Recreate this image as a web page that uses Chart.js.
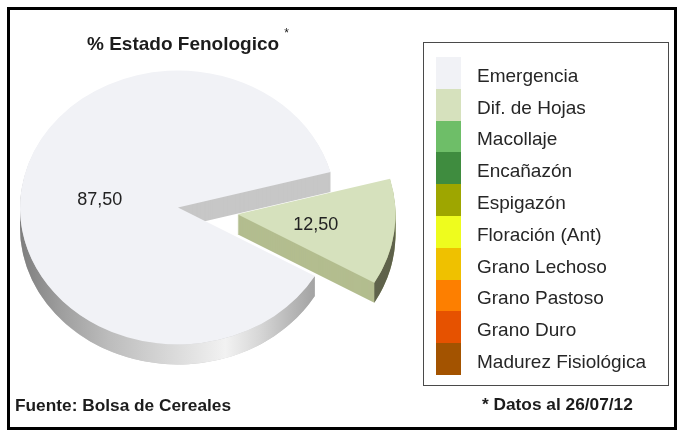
<!DOCTYPE html>
<html>
<head>
<meta charset="utf-8">
<script src="https://cdn.jsdelivr.net/npm/chart.js@4.4.0/dist/chart.umd.min.js"></script>
<style>
  body { margin: 0; background: #fff; }
  #wrap { position: relative; width: 677px; height: 430px; overflow: hidden;
          font-family: "Liberation Sans", Arial, sans-serif; color: #1c1c1c; }
  #frame { position: absolute; left: 7px; top: 7px; width: 670px; height: 423px;
           box-sizing: border-box; border: 3px solid #000; }
  canvas { position: absolute; left: 0; top: 0; }
  .txt { position: absolute; white-space: nowrap; line-height: 1; font-weight: bold; }
  .ast { font-size: 12px; font-weight: normal; position: relative; top: -13px; margin-left: 5px; }
</style>
</head>
<body>
<div id="wrap">
  <div id="frame"></div>
  <canvas id="fenoChart" width="677" height="430"></canvas>
  <div class="txt" style="left:87px; top:34px; font-size:19px;">% Estado Fenologico<span class="ast">*</span></div>
  <div class="txt" style="left:15px; top:397px; font-size:17.3px;">Fuente: Bolsa de Cereales</div>
  <div class="txt" style="left:482px; top:396px; font-size:17.3px;">* Datos al 26/07/12</div>
</div>
<script>
// etapas fenologicas y porcentaje de cada una
const etapas = ["Emergencia", "Dif. de Hojas", "Macollaje", "Encañazón", "Espigazón",
  "Floración (Ant)", "Grano Lechoso", "Grano Pastoso", "Grano Duro", "Madurez Fisiológica"];
const porcentajes = [87.5, 12.5, 0, 0, 0, 0, 0, 0, 0, 0];
const colores = ["#f1f2f6", "#d6e1bd", "#6ebe68", "#3f8c3f", "#9ea600",
  "#eefc1e", "#efc100", "#fd7f00", "#e65200", "#a35300"];

// colores de las caras laterales (corte y borde) para el efecto 3D
const colorCorte = ["#c7c7c7", "#b3bd8f"];
const colorBorde = [
  [[0, "#7e7e7e"], [0.13, "#9e9e9e"], [0.28, "#bcbcbc"], [0.41, "#cfcfcf"], [0.57, "#e6e6e6"],
   [0.65, "#f2f2f2"], [0.76, "#d6d6d6"], [0.85, "#bababa"], [0.92, "#a6a6a6"], [1, "#999999"]],
  [[0, "#74775e"], [1, "#5e614a"]]
];

// dibuja la torta inclinada con profundidad usando los arcos de Chart.js
const torta3d = {
  id: 'torta3d',
  beforeDatasetDraw(chart, args, opts) {
    const ctx = chart.ctx;
    const arcs = chart.getDatasetMeta(args.index).data;
    const t = opts.tilt, prof = opts.depth;
    const cx = arcs[0].x, cy = arcs[0].y;

    const desp = arcs.map((a, i) => {
      const m = (a.startAngle + a.endAngle) / 2;
      const o = opts.explode[i] || 0;
      return { x: Math.cos(m) * o, y: Math.sin(m) * o };
    });

    ctx.save();
    ctx.translate(cx, cy);
    ctx.scale(1, t);
    ctx.translate(-cx, -cy);

    arcs.forEach((a, i) => {
      if (!a.circumference) return;
      // caras de corte: copias del arco desplazadas hacia abajo
      const g = Object.create(a);
      g.options = Object.assign({}, a.options, { backgroundColor: colorCorte[i] || '#999' });
      for (let d = prof; d > 0; d--) {
        ctx.save();
        ctx.translate(desp[i].x, desp[i].y + d / t);
        g.draw(ctx);
        ctx.restore();
      }
      // borde frontal con degrade
      const r = a.outerRadius, ex = a.x + desp[i].x, ey = a.y + desp[i].y;
      const grad = ctx.createLinearGradient(ex - r, 0, ex + r, 0);
      (colorBorde[i] || [[0, '#888'], [1, '#888']]).forEach(s => grad.addColorStop(s[0], s[1]));
      for (let k = 0; k < 2; k++) {
        const lo = Math.max(a.startAngle, 2 * Math.PI * k);
        const hi = Math.min(a.endAngle, 2 * Math.PI * k + Math.PI);
        if (hi <= lo) continue;
        ctx.beginPath();
        ctx.arc(ex, ey, r, lo, hi);
        ctx.arc(ex, ey + prof / t, r, hi, lo, true);
        ctx.closePath();
        ctx.fillStyle = grad;
        ctx.fill();
      }
    });

    // caras superiores
    arcs.forEach((a, i) => {
      ctx.save();
      ctx.translate(desp[i].x, desp[i].y);
      a.draw(ctx);
      ctx.restore();
    });
    ctx.restore();

    // etiquetas de valores
    ctx.save();
    ctx.font = opts.labelFont;
    ctx.fillStyle = '#222';
    ctx.textAlign = 'center';
    ctx.textBaseline = 'alphabetic';
    arcs.forEach((a, i) => {
      if (!porcentajes[i]) return;
      const m = (a.startAngle + a.endAngle) / 2;
      const rr = a.outerRadius / 2;
      const x = a.x + desp[i].x + Math.cos(m) * rr;
      const y = cy + (a.y - cy + desp[i].y + Math.sin(m) * rr) * t;
      ctx.fillText(porcentajes[i].toFixed(2).replace('.', ','), x, y + 6.4);
    });
    ctx.restore();
    return false;
  }
};

// leyenda en recuadro a la derecha
const leyenda = {
  id: 'leyenda',
  afterDraw(chart, args, o) {
    const ctx = chart.ctx;
    ctx.save();
    ctx.strokeStyle = '#4a4a4a';
    ctx.lineWidth = 1;
    ctx.strokeRect(o.x + 0.5, o.y + 0.5, o.w, o.h);
    ctx.font = o.font;
    ctx.textBaseline = 'alphabetic';
    etapas.forEach((et, i) => {
      const y0 = Math.round(o.boxTop + i * o.step);
      const y1 = Math.round(o.boxTop + (i + 1) * o.step);
      ctx.fillStyle = colores[i];
      ctx.fillRect(o.boxX, y0, o.boxW, y1 - y0);
      ctx.fillStyle = '#262626';
      ctx.fillText(et, o.textX, o.boxTop + i * o.step + o.step / 2 + 8.8);
    });
    ctx.restore();
  }
};

new Chart(document.getElementById('fenoChart'), {
  type: 'pie',
  data: {
    labels: etapas,
    datasets: [{
      data: porcentajes,
      backgroundColor: colores,
      borderWidth: 0,
      clip: false
    }]
  },
  options: {
    responsive: false,
    animation: false,
    events: [],
    rotation: 120,
    radius: 158,
    layout: { padding: { left: 0, top: 0, right: 321, bottom: 15 } },
    plugins: {
      legend: { display: false },
      tooltip: { enabled: false },
      torta3d: { tilt: 0.867, depth: 20, explode: [0, 60], labelFont: '18px "Liberation Sans", Arial, sans-serif' },
      leyenda: { x: 423, y: 42, w: 245, h: 343, boxX: 436, boxW: 25, boxTop: 57, step: 31.8,
                 textX: 477, font: '19px "Liberation Sans", Arial, sans-serif' }
    }
  },
  plugins: [torta3d, leyenda]
});
</script>
</body>
</html>
